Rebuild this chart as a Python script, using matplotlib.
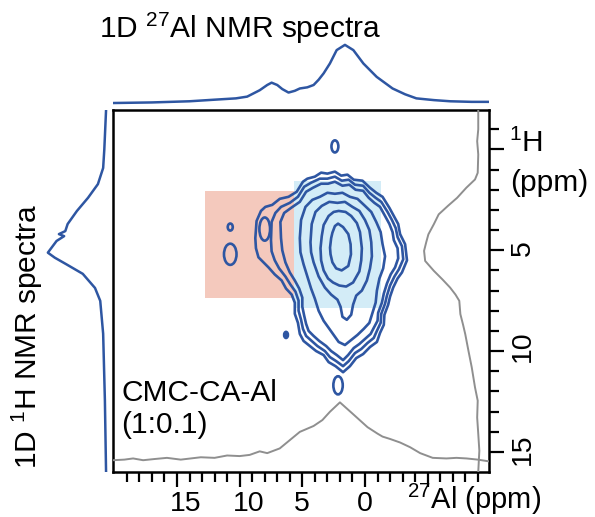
import matplotlib
matplotlib.use("Agg")
import matplotlib.pyplot as plt
from matplotlib.patches import Polygon, Ellipse
from matplotlib.transforms import ScaledTranslation

plt.rcParams['font.family'] = ['Liberation Sans', 'DejaVu Sans']
plt.rcParams['mathtext.fontset'] = 'custom'
plt.rcParams['mathtext.rm'] = 'Liberation Sans'
plt.rcParams['mathtext.it'] = 'Liberation Sans:italic'

BLUE = '#2e56a2'
GRAY = '#8f8f8f'

# ---- data (ppm values) ----
# 1D 27Al spectrum (top trace)
al_1d = [20.1, 17.0, 14.0, 11.8, 10.3, 9.4, 8.4, 7.8, 7.45, 7.0, 6.6, 6.1, 5.6, 5.2,
         4.6, 4.1, 3.7, 3.3, 2.8, 2.26, 1.6, 0.93, 0.13, -0.93, -2.2, -3.2, -4.1,
         -5.5, -6.8, -8.5, -9.9]
al_1d_int = [0.0, 0.01, 0.03, 0.06, 0.08, 0.11, 0.22, 0.31, 0.35, 0.31, 0.24, 0.18, 0.21,
             0.25, 0.27, 0.31, 0.40, 0.51, 0.68, 0.91, 1.0, 0.91, 0.68, 0.45, 0.25, 0.15,
             0.08, 0.05, 0.03, 0.02, 0.02]

# 1D 1H spectrum (left trace)
h_1d = [-1.95, 0.0, 0.92, 1.72, 2.4, 3.05, 3.7, 4.05, 4.2, 4.3, 4.54, 5.12, 5.37,
        5.7, 6.17, 6.87, 7.51, 9.14, 12.45, 16.0]
h_1d_int = [0.0, 0.03, 0.05, 0.14, 0.31, 0.5, 0.66, 0.70, 0.81, 0.72, 0.85, 1.0, 0.88,
            0.68, 0.40, 0.19, 0.10, 0.05, 0.02, 0.0]

# projections of the 2D map (grey traces)
al_proj = [20.1, 19.2, 18.5, 17.7, 16.8, 15.8, 14.7, 13.9, 13.1, 12.0, 11.0, 10.0, 9.2,
           8.4, 7.8, 6.8, 6.0, 5.2, 4.1, 3.4, 2.8, 2.0, 1.0, -0.2, -1.0, -1.4, -2.0,
           -2.8, -3.6, -4.4, -5.4, -6.5, -7.3, -8.1, -9.0, -9.9]
al_proj_int = [0.02, 0.03, 0.05, 0.02, 0.04, 0.06, 0.03, 0.05, 0.07, 0.06, 0.10, 0.09,
               0.11, 0.17, 0.14, 0.22, 0.36, 0.50, 0.60, 0.70, 0.84, 1.0, 0.81, 0.58,
               0.47, 0.42, 0.38, 0.32, 0.24, 0.14, 0.06, 0.05, 0.06, 0.05, 0.03, 0.0]
h_proj = [-1.95, -1.0, -0.41, 0.25, 1.16, 1.49, 1.9, 2.4, 2.8, 3.22, 3.71, 4.21, 4.6,
          5.03, 5.53, 6.02, 6.45, 6.85, 7.2, 7.51, 8.17, 8.7, 9.16, 10.0, 10.81, 11.8,
          12.46, 13.3, 14.1, 14.94, 16.0]
h_proj_int = [0.0, 0.0, 0.02, 0.0, 0.01, 0.06, 0.22, 0.39, 0.56, 0.73, 0.82, 0.92, 0.96,
              1.0, 0.98, 0.82, 0.66, 0.52, 0.42, 0.35, 0.33, 0.28, 0.24, 0.18, 0.12,
              0.06, 0.01, 0.02, 0.0, -0.02, 0.0]

# shaded regions: (27Al from, to), (1H from, to)
region_al = [(12.75, 5.63), (5.63, -1.28)]
region_h = [(2.05, 7.35), (1.57, 7.85)]
region_colors = ['#f4c9bd', '#d3ecf7']

# contour rings of the 2D map, (27Al, 1H) in ppm, outermost first
ring1 = [(8.75, 4.4), (8.65, 3.55), (8.3, 3.05), (7.95, 2.85), (7.4, 2.75), (6.8, 2.45),
         (6.1, 2.35), (5.45, 2.1), (4.95, 1.6), (4.6, 1.45), (4.0, 1.35), (3.5, 1.15),
         (3.0, 1.2), (2.4, 1.1), (1.9, 1.3), (1.4, 1.25), (0.9, 1.5), (0.2, 1.55),
         (-0.4, 1.9), (-0.9, 2.15), (-1.4, 2.35), (-1.95, 2.9), (-2.3, 3.3), (-2.65, 3.7),
         (-2.8, 4.2), (-3.2, 4.7), (-3.35, 5.5), (-2.95, 6.1), (-2.6, 6.4), (-2.25, 6.85),
         (-2.0, 7.3), (-1.85, 7.7), (-1.55, 8.2), (-1.5, 8.7), (-1.2, 9.1), (-0.95, 9.55),
         (-0.4, 9.8), (0.15, 10.15), (0.7, 10.35), (1.2, 10.75), (1.75, 11.05),
         (2.35, 10.75), (2.9, 10.55), (3.3, 10.2), (3.9, 10.0), (4.4, 9.75), (4.9, 9.5),
         (5.2, 9.15), (5.35, 8.6), (5.6, 8.15), (5.6, 7.6), (5.85, 7.2), (6.3, 6.9),
         (6.65, 6.5), (7.2, 6.2), (7.7, 5.85), (8.1, 5.6), (8.5, 5.35), (8.7, 4.9)]
ring2 = [(7.5, 4.5), (7.45, 3.6), (7.15, 3.15), (6.7, 2.85), (6.0, 2.65), (5.35, 2.35),
         (4.85, 1.85), (4.3, 1.65), (3.6, 1.45), (3.0, 1.45), (2.4, 1.35), (1.85, 1.55),
         (1.3, 1.5), (0.8, 1.75), (0.15, 1.8), (-0.35, 2.15), (-0.85, 2.4), (-1.3, 2.6),
         (-1.8, 3.1), (-2.15, 3.5), (-2.45, 3.9), (-2.6, 4.35), (-2.95, 4.8), (-3.05, 5.45),
         (-2.7, 5.95), (-2.35, 6.3), (-2.0, 6.75), (-1.75, 7.25), (-1.6, 7.65), (-1.3, 8.15),
         (-1.25, 8.6), (-0.95, 9.0), (-0.7, 9.35), (-0.2, 9.6), (0.3, 9.9), (0.8, 10.1),
         (1.3, 10.5), (1.75, 10.75), (2.3, 10.5), (2.8, 10.3), (3.2, 10.0), (3.8, 9.75),
         (4.25, 9.5), (4.7, 9.25), (4.95, 8.9), (5.1, 8.45), (5.3, 8.0), (5.3, 7.5),
         (5.55, 7.05), (5.95, 6.7), (6.35, 6.3), (6.85, 5.9), (7.2, 5.5), (7.45, 5.05)]
ring3 = [(6.7, 4.4), (6.75, 3.6), (6.45, 3.15), (5.9, 2.9), (5.2, 2.6), (4.7, 2.1),
         (4.15, 1.9), (3.5, 1.7), (2.95, 1.7), (2.4, 1.6), (1.8, 1.8), (1.25, 1.75),
         (0.75, 2.0), (0.15, 2.05), (-0.3, 2.4), (-0.75, 2.65), (-1.2, 2.85), (-1.6, 3.3),
         (-1.95, 3.7), (-2.2, 4.1), (-2.3, 4.5), (-2.6, 4.9), (-2.65, 5.4), (-2.4, 5.85),
         (-2.05, 6.2), (-1.75, 6.65), (-1.5, 7.15), (-1.35, 7.6), (-1.05, 8.1), (-1.0, 8.5),
         (-0.7, 8.85), (-0.45, 9.15), (0.0, 9.4), (0.45, 9.65), (0.9, 9.85), (1.35, 10.2),
         (1.75, 10.45), (2.25, 10.2), (2.7, 10.0), (3.1, 9.75), (3.65, 9.5), (4.1, 9.25),
         (4.5, 9.0), (4.7, 8.65), (4.85, 8.25), (5.0, 7.8), (5.0, 7.35), (5.25, 6.9),
         (5.6, 6.5), (6.0, 6.1), (6.35, 5.6), (6.6, 5.0)]
ring4 = [(5.2, 4.4), (5.1, 3.5), (4.75, 2.85), (4.2, 2.5), (3.6, 2.35), (3.0, 2.15),
         (2.4, 2.2), (1.8, 2.15), (1.2, 2.35), (0.6, 2.45), (0.0, 2.8), (-0.5, 3.1),
         (-0.9, 3.6), (-1.25, 4.1), (-1.4, 4.7), (-1.6, 5.3), (-1.45, 5.9), (-1.15, 6.4),
         (-0.95, 7.0), (-0.85, 7.6), (-0.6, 8.1), (-0.35, 8.6), (0.1, 8.9), (0.6, 9.2),
         (1.1, 9.45), (1.6, 9.7), (2.1, 9.55), (2.5, 9.2), (2.9, 8.85), (3.3, 8.5),
         (3.7, 8.0), (4.0, 7.4), (4.3, 6.9), (4.6, 6.3), (4.9, 5.7), (5.15, 5.1)]
ring5 = [(4.35, 4.6), (4.25, 3.7), (3.95, 3.1), (3.45, 2.8), (2.85, 2.6), (2.2, 2.65),
         (1.6, 2.6), (1.0, 2.85), (0.45, 3.05), (0.0, 3.5), (-0.35, 4.0), (-0.5, 4.6),
         (-0.55, 5.3), (-0.4, 5.9), (-0.15, 6.5), (0.25, 7.0), (0.7, 7.25), (0.95, 7.7),
         (1.1, 8.2), (1.45, 8.45), (1.8, 8.3), (1.95, 7.8), (2.2, 7.45), (2.7, 7.2),
         (3.2, 6.85), (3.7, 6.3), (4.1, 5.6), (4.3, 5.1)]
ring6 = [(2.1, 3.05), (1.55, 3.1), (1.1, 3.3), (0.65, 3.65), (0.4, 4.1), (0.25, 4.9),
         (0.3, 5.5), (0.45, 6.05), (0.95, 6.6), (1.5, 6.8), (2.05, 6.75), (2.55, 6.6),
         (2.95, 6.4), (3.3, 6.0), (3.5, 5.5), (3.55, 4.9), (3.45, 4.3), (3.3, 3.75),
         (2.9, 3.3), (2.5, 3.1)]
ring7 = [(2.15, 3.68), (1.75, 3.85), (1.33, 4.2), (1.15, 4.7), (1.12, 5.2), (1.33, 5.78),
         (1.86, 6.0), (2.3, 5.9), (2.6, 5.6), (2.75, 5.2), (2.79, 4.87), (2.7, 4.4),
         (2.6, 4.13), (2.4, 3.8)]
rings = [ring1, ring2, ring3, ring4, ring5, ring6, ring7]

# small isolated contours: 27Al centre, 1H centre, 27Al width, 1H height
island_al = [2.4, 10.75, 10.75, 6.3, 2.15, 8.0]
island_h = [-0.15, 3.85, 5.2, 9.2, 11.7, 3.95]
island_w = [0.55, 0.4, 1.0, 0.3, 0.75, 0.85]
island_hh = [0.6, 0.35, 1.05, 0.3, 0.9, 1.15]

al_major = [15, 10, 5, 0, -5]
al_major_labels = ['15', '10', '5', '0', '']
al_minor = [v for v in range(19, -10, -1) if v not in al_major]
h_major = [0, 5, 10, 15]
h_major_labels = ['', '5', '10', '15']
h_minor = [v for v in range(-1, 16) if v not in h_major]

# ---- figure ----
fig = plt.figure(figsize=(5.95, 5.17), dpi=100)
ax = fig.add_axes([0.190, 0.087, 0.632, 0.700])
ax_top = fig.add_axes([0.190, 0.795, 0.632, 0.128], sharex=ax)
ax_left = fig.add_axes([0.067, 0.087, 0.118, 0.700], sharey=ax)

ax.set_xlim(20.1, -9.9)
ax.set_ylim(16.0, -1.95)

for (a0, a1), (h0, h1), c in zip(region_al, region_h, region_colors):
    ax.fill([a0, a1, a1, a0], [h0, h0, h1, h1], color=c, lw=0, zorder=1)

for ring in rings:
    ax.add_patch(Polygon(ring, closed=True, fill=False, ec=BLUE, lw=1.9,
                         joinstyle='round', zorder=3))
for a, h, w, hh in zip(island_al, island_h, island_w, island_hh):
    ax.add_patch(Ellipse((a, h), w, hh, fill=(w < 0.35), fc=BLUE, ec=BLUE,
                         lw=1.9, zorder=3))

# grey projections drawn on overlay axes
ax_pb = ax.inset_axes([0, 0, 1, 1], sharex=ax)
ax_pb.set_ylim(-0.18, 5.95)
ax_pb.plot(al_proj, al_proj_int, color=GRAY, lw=1.4)
ax_pb.axis('off')
ax_pr = ax.inset_axes([0, 0, 1, 1], sharey=ax)
ax_pr.set_xlim(6.74, -0.2)
ax_pr.plot(h_proj_int, h_proj, color=GRAY, lw=1.4)
ax_pr.axis('off')

# ticks
ax.set_xticks(al_major, labels=al_major_labels)
ax.set_xticks(al_minor, minor=True)
ax.yaxis.tick_right()
ax.set_yticks(h_major, labels=h_major_labels)
ax.set_yticks(h_minor, minor=True)
ax.tick_params(which='major', direction='out', length=11, width=1.6, labelsize=20.5, pad=3)
ax.tick_params(which='minor', direction='out', length=7, width=1.6)
ax.tick_params(axis='y', labelrotation=90, pad=4)
for sp in ax.spines.values():
    sp.set_linewidth(1.8)

# small manual nudges of tick labels (px)
x_shift = {15: 9, 10: 9}
y_shift = {10: 11, 15: 8}
for lab, v in zip(ax.get_xticklabels(), al_major):
    lab.set_transform(lab.get_transform() +
                      ScaledTranslation(x_shift.get(v, 0) / 100, 0, fig.dpi_scale_trans))
for lab, v in zip(ax.get_yticklabels(), h_major):
    lab.set_transform(lab.get_transform() +
                      ScaledTranslation(0, y_shift.get(v, 0) / 100, fig.dpi_scale_trans))

ax.text(0.782, -0.077, r'$\mathregular{^{27}}$Al (ppm)', transform=ax.transAxes,
        ha='left', va='center', fontsize=21)
ax.text(1.053, 0.909, r'$\mathregular{^{1}}$H', transform=ax.transAxes,
        ha='left', va='center', fontsize=21.5)
ax.text(1.056, 0.798, '(ppm)', transform=ax.transAxes,
        ha='left', va='center', fontsize=21.5)
ax.text(0.022, 0.218, 'CMC-CA-Al', transform=ax.transAxes,
        ha='left', va='center', fontsize=21.5)
ax.text(0.022, 0.130, '(1:0.1)', transform=ax.transAxes,
        ha='left', va='center', fontsize=21.5)

# 1D traces
ax_top.plot(al_1d, al_1d_int, color=BLUE, lw=1.8)
ax_top.set_ylim(-0.051, 1.087)
ax_top.axis('off')
ax_left.plot(h_1d_int, h_1d, color=BLUE, lw=1.8)
ax_left.set_xlim(1.137, -0.069)
ax_left.axis('off')

fig.text(0.166, 0.9265, r'1D $\mathregular{^{27}}$Al NMR spectra', ha='left',
         va='baseline', fontsize=21.5)
fig.text(0.062, 0.350, r'1D $\mathregular{^{1}}$H NMR spectra', rotation=90,
         rotation_mode='anchor', ha='center', va='baseline', fontsize=21.5)

fig.savefig('out.png', dpi=100)
